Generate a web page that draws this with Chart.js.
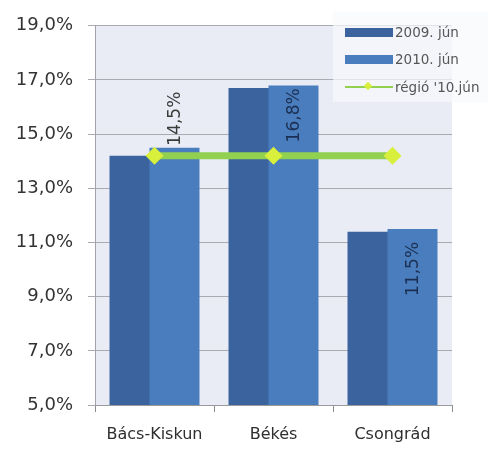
<!DOCTYPE html>
<html>
<head>
<meta charset="utf-8">
<script src="https://cdn.jsdelivr.net/npm/chart.js@4.4.1/dist/chart.umd.min.js"></script>
<style>
  html, body { margin: 0; padding: 0; background: #ffffff; }
  #wrap { position: relative; width: 488px; height: 450px; }
  #legend { position: absolute; left: 333px; top: 12px; width: 155px; height: 90px;
            background: rgba(248,249,252,0.7); font-family: "DejaVu Sans", sans-serif;
            font-size: 13.5px; color: #555; }
  .item { position: absolute; left: 12px; height: 16px; display: flex; align-items: center; white-space: nowrap; }
  .sw { width: 48px; height: 9px; margin-right: 2px; }
  .ln { width: 48px; height: 2px; margin-right: 2px; position: relative; }
  .ln i { position: absolute; left: 20px; top: -3px; width: 6px; height: 6px; transform: rotate(45deg); }
</style>
</head>
<body>
<div id="wrap">
  <canvas id="c"></canvas>
  <div id="legend"></div>
</div>
<script>
// ---- data ----
const categories = ["Bács-Kiskun", "Békés", "Csongrád"];
const seriesNames = ["2009. jún", "2010. jún", "régió '10.jún"];
const values2009 = [14.2, 16.7, 11.4];
const values2010 = [14.5, 16.8, 11.5];
const regio2010 = [14.2, 14.2, 14.2];
const yTicks = [5, 7, 9, 11, 13, 15, 17, 19];

// ---- styles ----
const col2009 = "#3b649e";
const col2010 = "#4a7dbd";
const colLine = "#92d050";
const colMarker = "#d8ef3c";
const fmt = v => v.toFixed(1).replace(".", ",") + "%";

const bgPlugin = {
  id: "plotBg",
  beforeDraw(chart) {
    const { ctx, chartArea: a } = chart;
    ctx.save();
    ctx.fillStyle = "#e9ecf4";
    ctx.fillRect(a.left, a.top, a.right - a.left, a.bottom - a.top);
    ctx.restore();
  }
};

// draw the 2010 bars on top of the overlapping 2009 bars
const overlapPlugin = {
  id: "overlapOrder",
  beforeDatasetDraw(chart, args) {
    if (args.index === 1 && !chart.$drawing2010) return false;
  },
  afterDatasetDraw(chart, args) {
    if (args.index === 0) {
      const { ctx, chartArea: a } = chart;
      ctx.save();
      ctx.beginPath();
      ctx.rect(a.left, a.top, a.right - a.left, a.bottom - a.top);
      ctx.clip();
      chart.$drawing2010 = true;
      chart.getDatasetMeta(1).controller.draw();
      chart.$drawing2010 = false;
      ctx.restore();
    }
  }
};

const labelPlugin = {
  id: "barLabels",
  afterDatasetsDraw(chart, args, opts) {
    const meta = chart.getDatasetMeta(1);
    const ctx = chart.ctx;
    ctx.save();
    ctx.font = "17px 'DejaVu Sans'";
    ctx.textBaseline = "middle";
    meta.data.forEach((el, i) => {
      const mode = opts.modes[i];
      ctx.save();
      ctx.translate(el.x + 1, el.y);
      ctx.rotate(-Math.PI / 2);
      if (mode.inside) {
        ctx.textAlign = "right";
        ctx.fillStyle = "#1b2f52";
        ctx.fillText(fmt(values2010[i]), -mode.pad, 0);
      } else {
        ctx.textAlign = "left";
        ctx.fillStyle = "#3a3a3a";
        ctx.fillText(fmt(values2010[i]), mode.pad, 0);
      }
      ctx.restore();
    });
    ctx.restore();
  }
};

const chart = new Chart(document.getElementById("c"), {
  type: "bar",
  data: {
    labels: categories,
    datasets: [
      { label: seriesNames[0], data: values2009, backgroundColor: col2009,
        categoryPercentage: 0.672, barPercentage: 1.25, order: 2 },
      { label: seriesNames[1], data: values2010, backgroundColor: col2010,
        categoryPercentage: 0.672, barPercentage: 1.25, order: 3 },
      { type: "line", label: seriesNames[2], data: regio2010, borderColor: colLine,
        borderWidth: 7, pointStyle: "rectRot", pointRadius: 9, pointBackgroundColor: colMarker,
        pointBorderColor: colMarker, pointBorderWidth: 0, order: 1 }
    ]
  },
  options: {
    responsive: true,
    maintainAspectRatio: false,
    animation: false,
    layout: { padding: { top: 20, right: 36, bottom: 0, left: 0 } },
    plugins: {
      legend: { display: false },
      tooltip: { enabled: false },
      barLabels: { modes: [ { inside: false, pad: 2 }, { inside: true, pad: 3 }, { inside: true, pad: 13 } ] }
    },
    scales: {
      x: {
        afterFit(s) { s.height = 45; },
        grid: { display: true, drawOnChartArea: false, offset: true, tickLength: 7, color: "#8c8c8c" },
        border: { color: "#9a9a9a" },
        ticks: { color: "#2e2e2e", font: { family: "DejaVu Sans", size: 16 }, padding: 13 }
      },
      y: {
        min: 5, max: 19,
        afterFit(s) { s.width = 95; },
        afterBuildTicks(s) { s.ticks = yTicks.map(v => ({ value: v })); },
        grid: { color: "#a9abb0", tickLength: 7 },
        border: { color: "#a0a3aa" },
        ticks: { color: "#333333", font: { family: "DejaVu Sans", size: 18 }, padding: 15,
                 callback: v => fmt(v) }
      }
    }
  },
  plugins: [bgPlugin, overlapPlugin, labelPlugin]
});

// ---- legend (HTML, built from the chart's datasets) ----
const lg = document.getElementById("legend");
const tops = [12, 39, 67];
chart.data.datasets.forEach((ds, i) => {
  const d = document.createElement("div");
  d.className = "item";
  d.style.top = tops[i] + "px";
  let sw;
  if (ds.type === "line") {
    sw = document.createElement("span");
    sw.className = "ln";
    sw.style.background = ds.borderColor;
    const m = document.createElement("i");
    m.style.background = ds.pointBackgroundColor;
    sw.appendChild(m);
  } else {
    sw = document.createElement("span");
    sw.className = "sw";
    sw.style.background = ds.backgroundColor;
  }
  d.appendChild(sw);
  const t = document.createElement("span");
  t.textContent = ds.label;
  d.appendChild(t);
  lg.appendChild(d);
});
</script>
</body>
</html>
